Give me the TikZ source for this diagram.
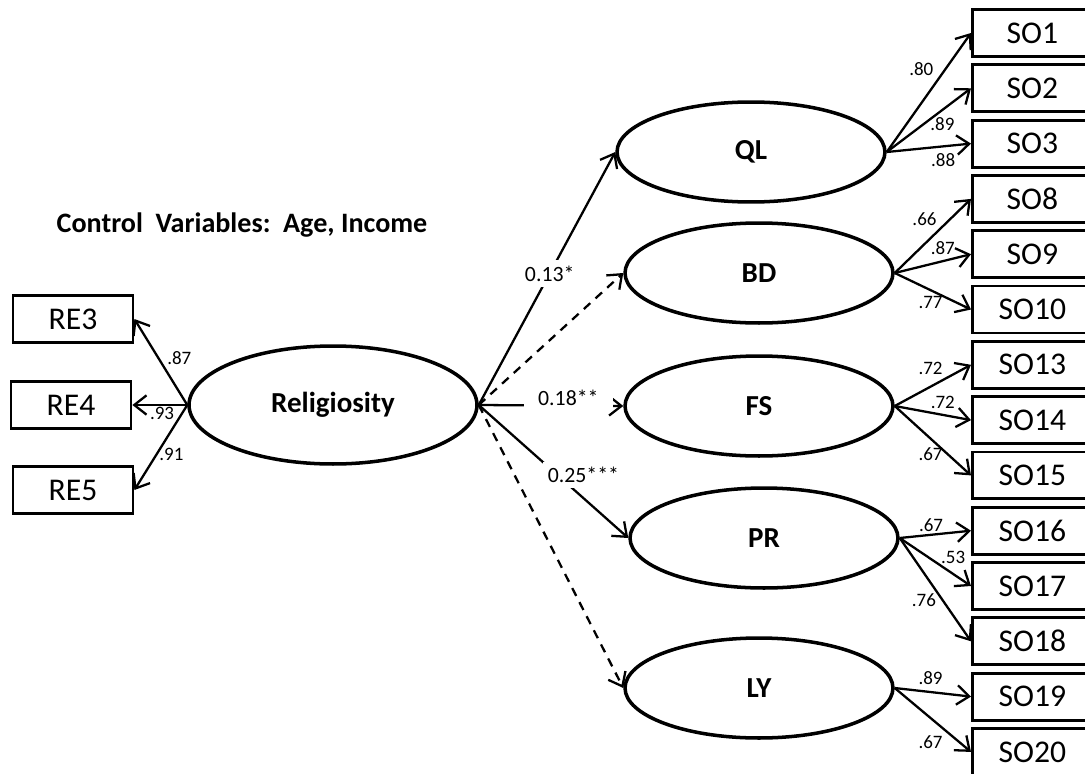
\documentclass[tikz,border=0pt]{standalone}
\usepackage{fontspec}
\setmainfont{Carlito}
\usetikzlibrary{arrows.meta,positioning,shapes.geometric}

\begin{document}
\begin{tikzpicture}[x=0.02cm,y=-0.02cm,>={Straight Barb[length=7pt,width=11pt]},
  latent/.style={ellipse,draw,line width=2pt,minimum width=5.36cm,minimum height=2cm,inner sep=0pt,font=\fontsize{16.5}{19}\selectfont\bfseries},
  obs/.style={rectangle,draw,line width=1.6pt,minimum width=2.4cm,minimum height=0.94cm,inner sep=0pt,font=\fontsize{18}{21}\selectfont},
  reg/.style={->,line width=1.3pt},
  load/.style={->,line width=1.3pt},
  wt/.style={font=\fontsize{10.8}{12}\selectfont,inner sep=1pt},
  coef/.style={font=\fontsize{12.4}{14}\selectfont,fill=white,inner sep=3pt}]
\useasboundingbox (0,0) rectangle (1085,774);
\node[latent,minimum width=5.76cm,minimum height=2.36cm] (rel) at (333,405) {Religiosity};
\node[latent] (QL) at (751,152) {QL};
\node[latent] (BD) at (759,273) {BD};
\node[latent] (FS) at (759,406) {FS};
\node[latent] (PR) at (764,538) {PR};
\node[latent] (LY) at (759,688) {LY};
\node[obs] (RE3) at (73,319) {RE3};
\node[obs] (RE4) at (71,405) {RE4};
\node[obs] (RE5) at (73,490) {RE5};
\foreach \n [count=\i from 0] in {1,2,3,8,9,10,13,14,15,16,17,18,19,20}
  \node[obs,anchor=west] (SO\n) at (971,{33+55.3*\i}) {SO\n};
\node[font=\fontsize{16}{19}\selectfont\bfseries] (ctrl) at (242,225) {Control\ \ Variables:\ \ Age, Income};

\foreach \dst/\val/\ps/\dy in {RE3/.87/0.15/-34,RE4/.93/0.46/8,RE5/.91/0.3/24}
  \draw[load] (rel.west) -- (\dst.east) node[wt,pos=\ps,shift={(0,\dy)}] {\val};
\foreach \src/\dst/\val/\ps/\dy in {QL/SO1/.80/0.41/-34,QL/SO2/.89/0.66/14,QL/SO3/.88/0.67/14,
    BD/SO8/.66/0.39/-25,BD/SO9/.87/0.63/-13,BD/SO10/.77/0.47/12,
    FS/SO13/.72/0.47/-18,FS/SO14/.72/0.63/-12,FS/SO15/.67/0.47/16,
    PR/SO16/.67/0.44/-10,PR/SO17/.53/0.75/-17,PR/SO18/.76/0.34/27,
    LY/SO19/.89/0.47/-14,LY/SO20/.67/0.47/24}
  \draw[load] (\src.east) -- (\dst.west) node[wt,pos=\ps,shift={(0,\dy)}] {\val};

\draw[reg] (rel.east) -- (QL.west) node[coef,pos=0.52] {0.13*};
\draw[reg,dash pattern=on 5pt off 4pt] (rel.east) -- (BD.west);
\draw[reg] (rel.east) -- (FS.west) node[coef,pos=0.62,shift={(0,-8)},inner xsep=8pt] {0.18**};
\draw[reg] (rel.east) -- (PR.west) node[coef,pos=0.7,shift={(0,-23)}] {0.25***};
\draw[reg,dash pattern=on 5pt off 4pt] (rel.east) -- (LY.west);
\end{tikzpicture}
\end{document}
